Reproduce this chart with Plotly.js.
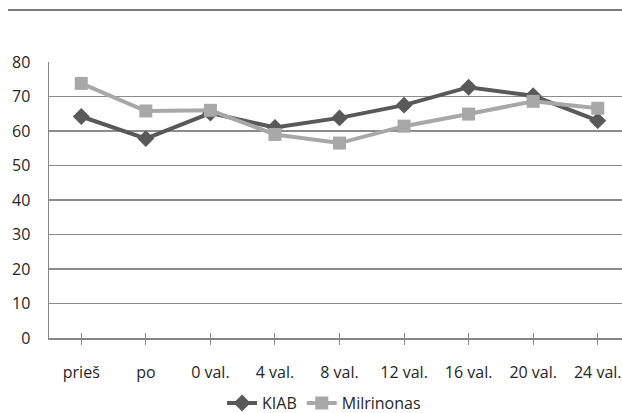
<!DOCTYPE html>
<html>
<head>
<meta charset="utf-8">
<script src="https://cdn.plot.ly/plotly-3.0.1.min.js"></script>
<style>html,body{margin:0;padding:0;background:#fff;}#chart{width:622px;height:413px;}</style>
</head>
<body>
<div id="chart"></div>
<script>
const categories = ["prieš", "po", "0 val.", "4 val.", "8 val.", "12 val.", "16 val.", "20 val.", "24 val."];
const kiab = [64.2, 57.8, 65.2, 61.0, 63.8, 67.5, 72.7, 70.2, 63.0];
const milrinonas = [73.8, 65.8, 66.0, 59.0, 56.5, 61.4, 64.9, 68.6, 66.6];
const yTicks = [0, 10, 20, 30, 40, 50, 60, 70, 80];

const font = "Open Sans, Liberation Sans, sans-serif";
const textColor = "#262626";

const traces = [
  {
    x: categories, y: kiab, name: "KIAB", type: "scatter", mode: "lines+markers",
    line: {color: "#595959", width: 4},
    marker: {symbol: "diamond", size: 13, color: "#595959"}
  },
  {
    x: categories, y: milrinonas, name: "Milrinonas", type: "scatter", mode: "lines+markers",
    line: {color: "#a8a8a8", width: 4},
    marker: {symbol: "square", size: 13, color: "#a8a8a8"}
  },
  {
    x: categories, y: categories.map(() => null), xaxis: "x2", yaxis: "y",
    type: "scatter", mode: "lines", showlegend: false, hoverinfo: "skip"
  }
];

const xCommon = {
  type: "category", range: [-0.5, 8.376], showgrid: false, fixedrange: true
};

const layout = {
  width: 622, height: 413,
  margin: {l: 49, r: 0, t: 62, b: 75, autoexpand: false},
  paper_bgcolor: "#fff", plot_bgcolor: "#fff",
  font: {family: font, size: 16, color: textColor},
  showlegend: true,
  legend: {orientation: "h", x: 0.48, xanchor: "center", y: -0.236, yanchor: "middle",
           font: {family: font, size: 16, color: textColor}, itemwidth: 30, tracegroupgap: 0},
  xaxis: Object.assign({}, xCommon, {
    showline: true, linecolor: "#868686", linewidth: 1.5,
    ticks: "outside", ticklen: 5, tickcolor: "#868686", tickwidth: 1,
    tickfont: {family: font, size: 16, color: textColor}, ticklabelstandoff: 14
  }),
  xaxis2: Object.assign({}, xCommon, {
    overlaying: "x", showline: false, showticklabels: false,
    ticks: "inside", ticklen: 5, tickcolor: "#868686", tickwidth: 1
  }),
  yaxis: {
    range: [0, 80], tickvals: yTicks, ticktext: yTicks.map(String),
    showgrid: true, gridcolor: "#8c8c8c", gridwidth: 1.2,
    showline: true, linecolor: "#868686", linewidth: 1.5,
    zeroline: false, ticks: "", ticklabelstandoff: 14,
    tickfont: {family: font, size: 16, color: textColor}, fixedrange: true
  },
  shapes: [
    {type: "line", xref: "paper", yref: "paper", x0: -0.0716, x1: 1.0, y0: 1.188, y1: 1.188,
     line: {color: "#7a7a7a", width: 2}}
  ]
};

Plotly.newPlot("chart", traces, layout, {displayModeBar: false, staticPlot: true});
</script>
</body>
</html>
